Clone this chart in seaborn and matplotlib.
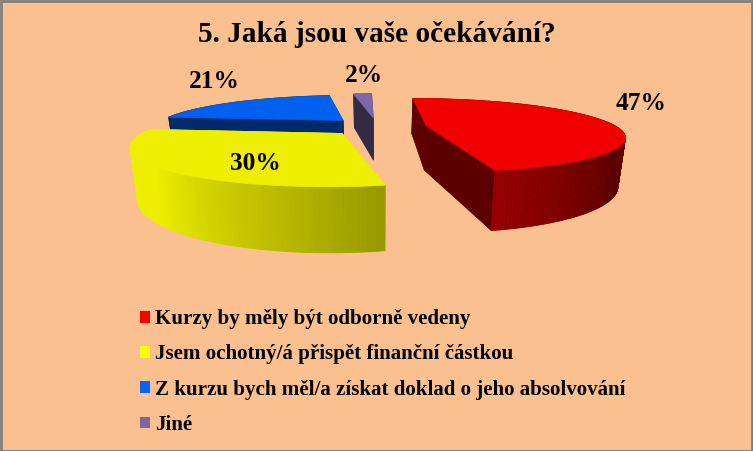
import numpy as np
import matplotlib
matplotlib.use("Agg")
import matplotlib.pyplot as plt
from matplotlib.patches import Patch, Rectangle
import seaborn as sns

# data
title = "5. Jaká jsou vaše očekávání?"
categories = [
    "Kurzy by měly být odborně vedeny",
    "Jsem ochotný/á přispět finanční částkou",
    "Z kurzu bych měl/a získat doklad o jeho absolvování",
    "Jiné",
]
values = [47, 30, 21, 2]

# colours
bg = "#fbc08f"
top_colors = ["#f00000", "#eeee00", "#0060f0", "#7f68a8"]
wall_colors = ["#5c0000", "#9a9a00", "#002a6a", "#352a45"]
legend_colors = ["#ff0000", "#ffff00", "#0066ff", "#8064a2"]
# angle range of the gradient on the curved wall, per slice
ramp_range = [(125, 232), (169, 225), None, None]

# pie geometry, pixels on a 753x451 canvas
cx, cy = 377, 126.4
rx, ry = 190, 34.5
persp = 0.267
depth = 45
start_angle = -1
explode = 0.26
label_pos = [(641, 103), (255, 163), (214, 82), (364, 75)]


def project(X, Y, low=False):
    s = 1 / (1 + persp * Y)
    if low:
        return cx + rx * X * s * 0.97, cy + (-ry * Y + depth) * s
    return cx + rx * X * s, cy - ry * Y * s


sns.set_theme(style="white", rc={"figure.facecolor": bg, "axes.facecolor": bg})
plt.rcParams["font.family"] = ["Liberation Serif"]

fig, ax = plt.subplots(figsize=(7.53, 4.51), dpi=100)
fig.subplots_adjust(0, 0, 1, 1)
ax.set_xlim(0, 753)
ax.set_ylim(451, 0)
ax.axis("off")

edges = start_angle + np.concatenate([[0], np.cumsum(values)]) * 3.6
slices = []
for i in range(len(values)):
    slices.append((i, edges[i], edges[i + 1]))

# back slices first, the front one has to cover them
slices.sort(key=lambda t: -np.cos(np.radians((t[1] + t[2]) / 2)))

for i, a0, a1 in slices:
    mid = np.radians((a0 + a1) / 2)
    ox, oy = explode * np.sin(mid), explode * np.cos(mid)
    th = np.linspace(a0, a1, max(int(a1 - a0), 2) + 1)
    X = ox + np.sin(np.radians(th))
    Y = oy + np.cos(np.radians(th))

    # flat walls from the apex, yellow one shows no dark wall in the picture
    flat = top_colors[i] if i == 1 else wall_colors[i]
    for k in (0, -1):
        p = [project(ox, oy), project(X[k], Y[k]), project(X[k], Y[k], True), project(ox, oy, True)]
        ax.fill(*zip(*p), color=flat, lw=0.5)

    # curved wall
    ramp = sns.blend_palette([wall_colors[i], top_colors[i]], 101)
    for j in range(len(th) - 1):
        p = [project(X[j], Y[j]), project(X[j + 1], Y[j + 1]),
             project(X[j + 1], Y[j + 1], True), project(X[j], Y[j], True)]
        col = wall_colors[i]
        if ramp_range[i] is not None:
            lo, hi = ramp_range[i]
            col = ramp[int(np.clip((th[j] - lo) / (hi - lo), 0, 1) * 100)]
        ax.fill(*zip(*p), color=col, lw=0.6)

    top = [project(ox, oy)] + [project(x, y) for x, y in zip(X, Y)]
    ax.fill(*zip(*top), color=top_colors[i], lw=0.5)

for v, (lx, ly) in zip(values, label_pos):
    ax.text(lx, ly, f"{v}%", ha="center", va="center", fontsize=18.3, fontweight="bold", color="black")

ax.text(377, 34, title, ha="center", va="center", fontsize=21.1, fontweight="bold", color="black")

handles = [Patch(facecolor=c, edgecolor="none") for c in legend_colors]
ax.legend(handles, categories, loc="upper left", bbox_to_anchor=(140 / 753, 1 - 309 / 451),
          frameon=False, handlelength=0.47, handleheight=0.5, handletextpad=0.24, borderpad=0, borderaxespad=0,
          labelspacing=0.73, labelcolor="black", prop={"family": "Liberation Serif", "weight": "bold", "size": 15.1})

# picture frame
ax.add_patch(Rectangle((0.5, 0.5), 752, 450, fill=False, edgecolor="#7f7f7f", lw=2, clip_on=False))

fig.savefig("out.png", dpi=100, facecolor=bg)
